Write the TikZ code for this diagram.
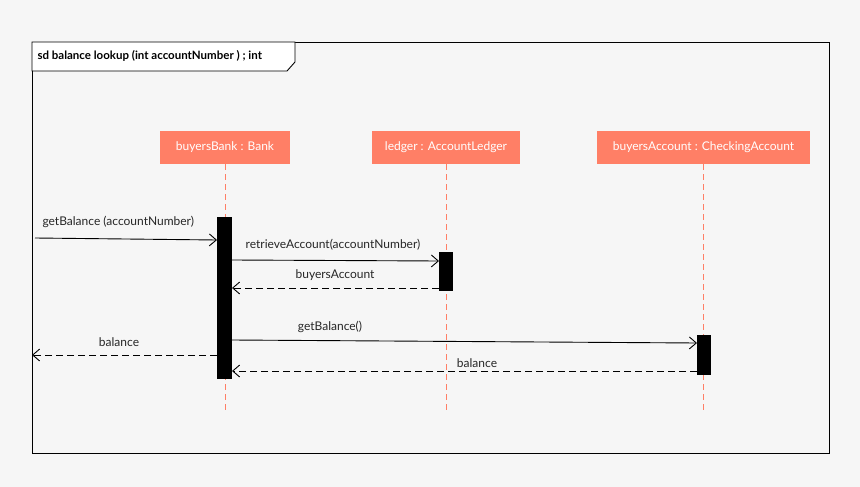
\documentclass[tikz,border=0pt]{standalone}
\usepackage{fontspec}
\setmainfont{Lato}
\usetikzlibrary{arrows.meta}
\definecolor{headcol}{HTML}{FF7F66}
\definecolor{bgcol}{HTML}{F6F6F6}
\tikzset{
  head/.style={fill=headcol, text=white, font=\fontsize{12}{14}\selectfont, minimum height=33pt, inner sep=0pt},
  lifeline/.style={headcol, dashed, dash pattern=on 6pt off 4pt, line width=1pt},
  actbar/.style={fill=black, draw=black},
  msg/.style={-{Straight Barb[length=7pt,width=12pt]}, line width=0.9pt},
  reply/.style={msg, dash pattern=on 7pt off 4pt},
  lbl/.style={font=\fontsize{12}{14}\selectfont, text=black!85}
}
\begin{document}
\begin{tikzpicture}[x=1pt,y=-1pt]
  \fill[bgcol] (0,0) rectangle (860,487);
  \useasboundingbox (0,0) rectangle (860,487);

  % frame
  \draw[line width=0.9pt] (32,42) rectangle (829,453);
  \draw[line width=0.9pt, fill=white] (32,42) -- (295,42) -- (295,62) -- (287,71) -- (32,71) -- cycle;
  \node[anchor=west, font=\bfseries\fontsize{11.5}{13}\selectfont] (title) at (34,56) {sd balance lookup (int accountNumber ) ; int};

  % lifelines
  \node[head, minimum width=130pt] (bank) at (225,147.5) {buyersBank : Bank};
  \node[head, minimum width=148pt] (ledger) at (446,147.5) {ledger : AccountLedger};
  \node[head, minimum width=213pt] (acct) at (703.5,147.5) {buyersAccount : CheckingAccount};
  \coordinate (bankE) at (225,412);
  \coordinate (ledgerE) at (446,412);
  \coordinate (acctE) at (703.5,412);
  \draw[lifeline] (bank.south) -- (bankE);
  \draw[lifeline] (ledger.south) -- (ledgerE);
  \draw[lifeline] (acct.south) -- (acctE);

  % activations
  \draw[actbar] (217.5,217) rectangle (231.5,378);
  \draw[actbar] (439.5,252) rectangle (452.5,290);
  \draw[actbar] (697.5,335) rectangle (710.5,374);

  % messages
  \coordinate (in) at (35,238);
  \coordinate (out) at (32,355);
  \draw[msg] (in) -- (217,240);
  \node[lbl, anchor=west] (m1) at (39,222) {getBalance (accountNumber)};
  \draw[msg] (232,260) -- (439,261);
  \node[lbl] (m2) at (333,245) {retrieveAccount(accountNumber)};
  \draw[reply] (439,288) -- (232,288);
  \node[lbl] (m3) at (335,275) {buyersAccount};
  \draw[msg] (232,340) -- (697,343);
  \node[lbl] (m4) at (330,327) {getBalance()};
  \draw[reply] (697,371) -- (232,371);
  \node[lbl] (m5) at (477,363) {balance};
  \draw[reply] (217,355) -- (out);
  \node[lbl] (m6) at (119,342) {balance};
\end{tikzpicture}
\end{document}
